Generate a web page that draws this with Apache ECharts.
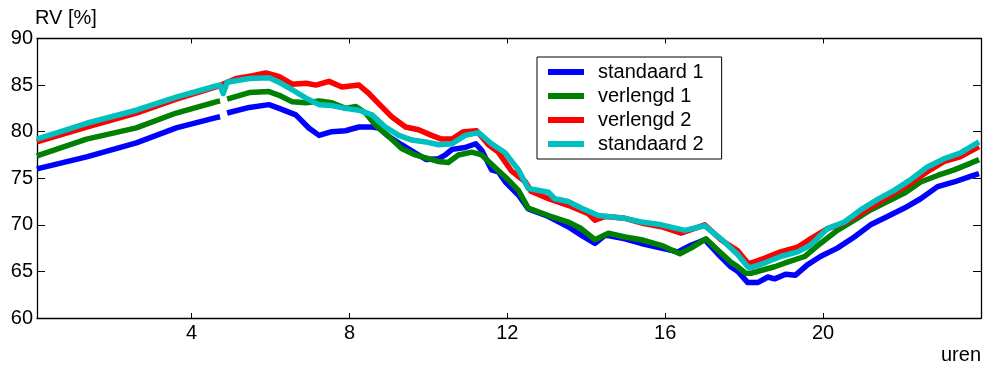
<!DOCTYPE html>
<html>
<head>
<meta charset="utf-8">
<title>RV [%]</title>
<script src="https://cdn.jsdelivr.net/npm/echarts@6/dist/echarts.min.js"></script>
<style>
  html, body { margin: 0; padding: 0; background: #fff; }
  #chart { width: 984px; height: 365px; }
</style>
</head>
<body>
<div id="chart"></div>
<script>
// Relative humidity over one day (hours), four test runs. null = no measurement.
const seriesNames = ['standaard 1', 'verlengd 1', 'verlengd 2', 'standaard 2'];
const seriesColors = ['#0000ff', '#008000', '#ff0000', '#00bfbf'];

const standaard1Hours = [0.08, 1.34, 2.6, 3.61, 4.62, 4.72, 4.8, 4.9, 5.46, 5.96, 6.22, 6.64, 6.97, 7.23, 7.55, 7.9, 8.24, 8.57, 8.74, 8.99, 9.32, 9.67, 9.95, 10.26, 10.43, 10.6, 10.93, 11.2, 11.35, 11.6, 11.77, 11.95, 12.28, 12.53, 13.04, 13.54, 13.87, 14.22, 14.48, 14.98, 15.39, 15.9, 16.32, 16.65, 17.0, 17.33, 17.66, 17.84, 18.09, 18.34, 18.6, 18.77, 19.05, 19.3, 19.6, 19.93, 20.36, 20.79, 21.2, 21.63, 22.06, 22.47, 22.9, 23.32, 23.73, 23.95];
const standaard1Values = [76.0, 77.3, 78.8, 80.4, 81.5, 81.6, null, 82.0, 82.6, 82.9, 82.5, 81.8, 80.4, 79.6, 80.0, 80.1, 80.5, 80.5, 80.4, 79.5, 78.6, 77.7, 77.0, 77.1, 77.5, 78.1, 78.3, 78.7, 78.0, 75.9, 75.7, 74.6, 73.2, 71.7, 70.9, 69.8, 68.9, 68.0, 68.9, 68.5, 68.0, 67.5, 67.1, 67.8, 68.4, 66.9, 65.5, 65.0, 63.8, 63.8, 64.4, 64.2, 64.7, 64.6, 65.7, 66.6, 67.5, 68.7, 70.0, 70.9, 71.8, 72.8, 74.1, 74.6, 75.2, 75.5];

const verlengd1Hours = [0.08, 1.34, 2.6, 3.61, 4.62, 4.72, 4.8, 4.9, 5.46, 5.96, 6.22, 6.55, 6.9, 7.23, 7.55, 7.9, 8.16, 8.41, 8.66, 8.99, 9.32, 9.67, 10.0, 10.26, 10.5, 10.76, 11.1, 11.35, 11.7, 12.03, 12.28, 12.53, 13.04, 13.54, 13.87, 14.22, 14.56, 14.98, 15.39, 15.9, 16.37, 16.65, 17.03, 17.33, 17.66, 17.84, 18.04, 18.17, 18.42, 18.77, 19.1, 19.53, 19.93, 20.36, 20.79, 21.2, 21.63, 22.06, 22.47, 22.9, 23.32, 23.73, 23.95];
const verlengd1Values = [77.4, 79.2, 80.4, 82.0, 83.2, 83.3, null, 83.5, 84.2, 84.3, 83.9, 83.2, 83.1, 83.3, 83.1, 82.5, 82.7, 82.0, 80.7, 79.5, 78.2, 77.5, 77.1, 76.8, 76.7, 77.5, 77.8, 77.5, 76.1, 74.8, 73.7, 71.8, 71.0, 70.3, 69.6, 68.4, 69.1, 68.7, 68.4, 67.8, 66.9, 67.5, 68.5, 67.3, 66.0, 65.5, 64.8, 64.8, 65.1, 65.5, 66.0, 66.6, 68.0, 69.4, 70.5, 71.6, 72.5, 73.4, 74.6, 75.3, 75.9, 76.6, 77.0];

const verlengd2Hours = [0.08, 1.34, 2.6, 3.61, 4.62, 5.13, 5.55, 5.88, 6.14, 6.22, 6.55, 6.9, 7.15, 7.48, 7.81, 8.24, 8.49, 8.74, 9.07, 9.42, 9.75, 10.08, 10.33, 10.6, 10.89, 11.22, 11.52, 11.77, 12.1, 12.46, 12.6, 13.04, 13.54, 14.05, 14.22, 14.48, 14.98, 15.39, 15.9, 16.4, 17.0, 17.41, 17.84, 18.09, 18.17, 18.51, 18.92, 19.35, 19.68, 20.11, 20.54, 20.95, 21.37, 21.8, 22.2, 22.64, 23.07, 23.47, 23.95];
const verlengd2Values = [78.9, 80.5, 82.0, 83.5, 84.8, 85.7, 86.0, 86.3, 86.0, 85.9, 85.1, 85.2, 85.0, 85.4, 84.8, 85.0, 84.1, 83.0, 81.6, 80.5, 80.2, 79.6, 79.2, 79.2, 80.0, 80.1, 78.6, 77.8, 75.8, 74.6, 73.6, 72.8, 72.1, 71.2, 70.5, 70.9, 70.7, 70.2, 69.8, 69.1, 70.0, 68.4, 67.2, 65.9, 65.9, 66.4, 67.1, 67.6, 68.5, 69.6, 70.2, 71.2, 72.3, 73.4, 74.4, 75.7, 76.8, 77.3, 78.4];

const standaard2Hours = [0.08, 1.34, 2.6, 3.61, 4.62, 4.72, 4.8, 4.9, 5.46, 5.96, 6.22, 6.55, 6.9, 7.23, 7.55, 7.9, 8.24, 8.57, 8.91, 9.25, 9.58, 9.93, 10.26, 10.6, 10.93, 11.27, 11.6, 11.95, 12.28, 12.53, 13.04, 13.2, 13.54, 13.87, 14.3, 14.98, 15.39, 15.9, 16.5, 17.0, 17.41, 17.84, 18.09, 18.17, 18.51, 18.92, 19.35, 19.68, 20.11, 20.54, 20.95, 21.37, 21.8, 22.2, 22.64, 23.07, 23.47, 23.95];
const standaard2Values = [79.2, 80.9, 82.3, 83.7, 84.9, 85.0, 84.1, 85.3, 85.7, 85.8, 85.3, 84.5, 83.6, 82.9, 82.8, 82.5, 82.3, 81.8, 80.5, 79.6, 79.1, 78.9, 78.6, 78.7, 79.6, 79.9, 78.7, 77.7, 75.9, 73.9, 73.5, 72.8, 72.5, 71.8, 71.0, 70.7, 70.3, 70.0, 69.4, 69.9, 68.5, 66.8, 65.5, 65.4, 65.9, 66.6, 67.1, 67.8, 69.6, 70.3, 71.6, 72.7, 73.7, 74.8, 76.2, 77.1, 77.7, 78.9];

const xTickValues = [4, 8, 12, 16, 20];
const yTickMin = 60, yTickMax = 90, yTickStep = 5;

const FONT = '"Liberation Sans", Arial, Helvetica, sans-serif';

function pairs(hours, values) {
  return hours.map((h, i) => [h, values[i] === null ? '-' : values[i]]);
}

const seriesData = [
  pairs(standaard1Hours, standaard1Values),
  pairs(verlengd1Hours, verlengd1Values),
  pairs(verlengd2Hours, verlengd2Values),
  pairs(standaard2Hours, standaard2Values)
];

const axisLineStyle = { color: '#000', width: 1.3 };

function xAxisDef(position, showLabels) {
  return {
    type: 'value',
    position: position,
    min: 0.083,
    max: 24,
    axisLine: { show: true, onZero: false, lineStyle: axisLineStyle },
    axisTick: { show: true, inside: true, length: 5, customValues: xTickValues, lineStyle: { color: '#000', width: 1 } },
    axisLabel: { show: showLabels, customValues: xTickValues, margin: 5, fontSize: 20, fontFamily: FONT, color: '#000' },
    splitLine: { show: false }
  };
}

function yAxisDef(position, showLabels) {
  return {
    type: 'value',
    position: position,
    min: yTickMin,
    max: yTickMax,
    interval: yTickStep,
    axisLine: { show: true, onZero: false, lineStyle: axisLineStyle },
    axisTick: { show: true, inside: true, length: 8, lineStyle: { color: '#000', width: 1 } },
    axisLabel: { show: showLabels, margin: 4, fontSize: 20, fontFamily: FONT, color: '#000' },
    splitLine: { show: false }
  };
}

const xBottom = xAxisDef('bottom', true);
xBottom.name = 'uren';
xBottom.nameLocation = 'end';
xBottom.nameGap = 0;
xBottom.nameTextStyle = { fontSize: 20, fontFamily: FONT, color: '#000', align: 'right', verticalAlign: 'top', lineHeight: 20, padding: [27, 0, 0, 0] };

const yLeft = yAxisDef('left', true);
yLeft.name = 'RV [%]';
yLeft.nameLocation = 'end';
yLeft.nameGap = 4;
yLeft.nameTextStyle = { fontSize: 20, fontFamily: FONT, color: '#000', align: 'left', verticalAlign: 'bottom', lineHeight: 20, padding: [0, 0, 0, -2] };

const chart = echarts.init(document.getElementById('chart'), null, { renderer: 'canvas' });

chart.setOption({
  animation: false,
  backgroundColor: '#fff',
  grid: { left: 37, right: 1.5, top: 38.5, bottom: 47, containLabel: false },
  xAxis: [xBottom, xAxisDef('top', false)],
  yAxis: [yLeft, yAxisDef('right', false)],
  legend: {
    orient: 'vertical',
    left: 537,
    top: 57,
    align: 'left',
    padding: [5, 18, 5, 11],
    itemGap: 4,
    itemWidth: 36,
    itemHeight: 6,
    icon: 'rect',
    borderColor: '#000',
    borderWidth: 1,
    backgroundColor: '#fff',
    selectedMode: false,
    textStyle: { fontSize: 20, fontFamily: FONT, color: '#000', lineHeight: 20, padding: [0, 0, 0, 9] },
    data: seriesNames
  },
  series: seriesNames.map((name, i) => ({
    name: name,
    type: 'line',
    xAxisIndex: 0,
    yAxisIndex: 0,
    data: seriesData[i],
    showSymbol: false,
    symbol: 'none',
    connectNulls: false,
    color: seriesColors[i],
    lineStyle: { color: seriesColors[i], width: 5.5, join: 'round', cap: 'butt' },
    emphasis: { disabled: true }
  }))
});
</script>
</body>
</html>
